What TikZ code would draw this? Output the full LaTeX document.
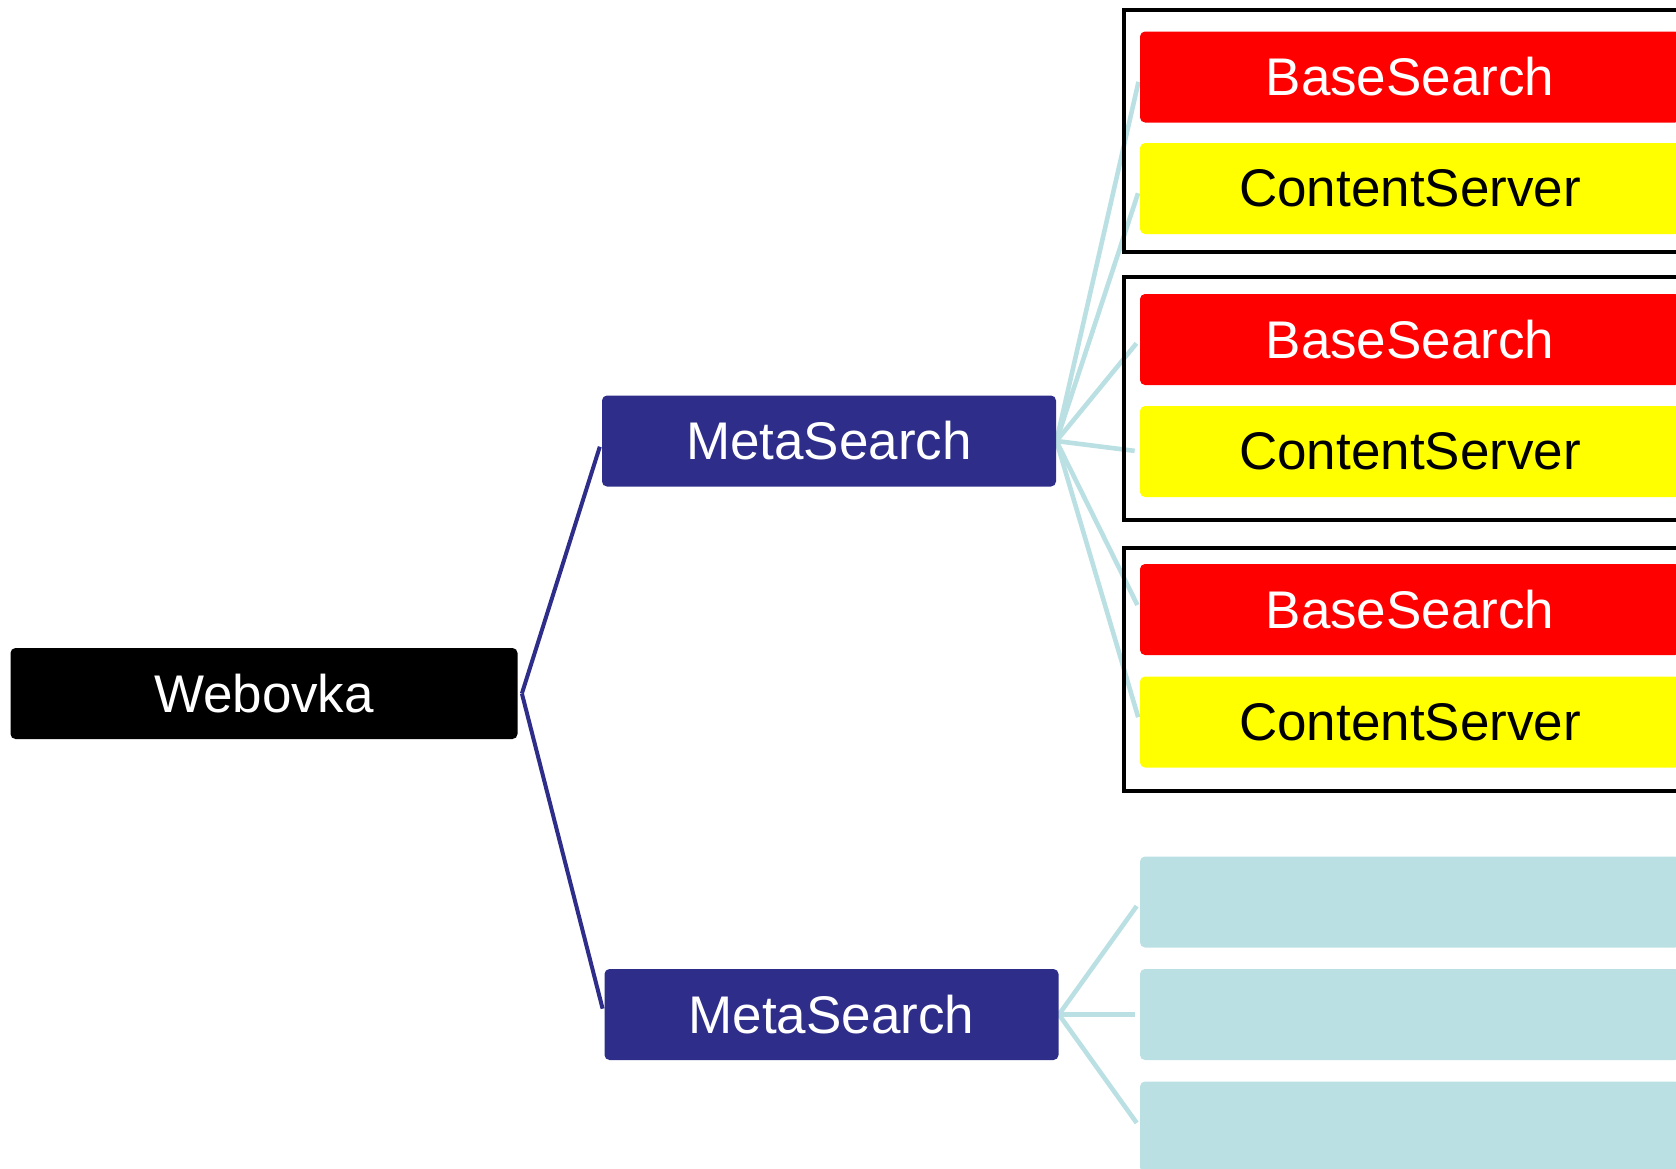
\documentclass[tikz,border=0pt]{standalone}
\usepackage{fontspec}
\setmainfont{Liberation Sans}
\usetikzlibrary{backgrounds}
\definecolor{navy}{HTML}{2E2E8A}
\definecolor{lblue}{HTML}{BBE0E3}
\definecolor{bred}{HTML}{FF0000}
\definecolor{byel}{HTML}{FFFF00}
\tikzset{
  box/.style={rounded corners=2.5pt, inner sep=0pt, minimum height=45.5pt,
    font=\fontsize{26.5}{30}\selectfont},
  webbox/.style={box, fill=black, text=white, minimum width=253.5pt},
  metabox/.style={box, fill=navy, text=white, minimum width=227pt},
  basebox/.style={box, fill=bred, text=white, minimum width=270pt},
  contbox/.style={box, fill=byel, text=black, minimum width=270pt},
  emptybox/.style={box, fill=lblue, minimum width=270pt},
  navyline/.style={draw=navy, line width=2pt},
  blueline/.style={draw=lblue, line width=2.3pt, shorten >=2.5pt},
  framebox/.style={draw=black, line width=2.4pt},
}
\begin{document}
\begin{tikzpicture}[x=0.5pt,y=-0.5pt]
\useasboundingbox (0,0) rectangle (1676,1168);
\clip (0,0) rectangle (1676,1168);

% nodes
\node[webbox] (web) at (264,693.5) {Webovka};
\node[metabox] (ms1) at (829,441) {MetaSearch};
\node[metabox] (ms2) at (831.5,1014.5) {MetaSearch};

\node[basebox] (r1) at (1410,77) {BaseSearch};
\node[contbox] (y1) at (1410,188.5) {ContentServer};
\node[basebox] (r2) at (1410,339.5) {BaseSearch};
\node[contbox] (y2) at (1410,451.5) {ContentServer};
\node[basebox] (r3) at (1410,609.5) {BaseSearch};
\node[contbox] (y3) at (1410,722) {ContentServer};

\node[emptybox] (c1) at (1410,902) {};
\node[emptybox] (c2) at (1410,1014.5) {};
\node[emptybox] (c3) at (1410,1127) {};

\begin{scope}[on background layer]
\draw[navyline, shorten >=3pt] ([xshift=2pt]web.east) -- (ms1.west);
\draw[navyline, shorten >=3pt] ([xshift=2pt]web.east) -- (ms2.west);
\foreach \t in {r1,y1,r2,y2,r3,y3}
  \draw[blueline] (ms1.east) -- (\t.west);
\foreach \t in {c1,c2,c3}
  \draw[blueline] (ms2.east) -- (\t.west);
\draw[framebox] (1124,10) rectangle (1710,252);
\draw[framebox] (1124,277) rectangle (1710,520);
\draw[framebox] (1124,548) rectangle (1710,791);
\end{scope}
\end{tikzpicture}
\end{document}
